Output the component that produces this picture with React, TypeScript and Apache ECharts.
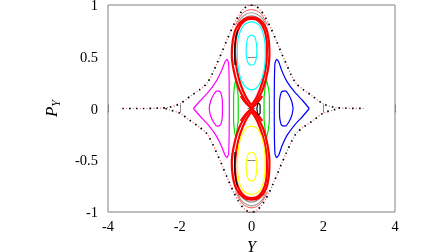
import React, { useEffect, useRef } from "react";
import * as echarts from "echarts";

const SERIF = "'Liberation Serif', 'Times New Roman', serif";

const xTicks = [-4, -2, 0, 2, 4];
const yTicks = [-1, -0.5, 0, 0.5, 1];

const envelopeUpper = [
  [-3.6, 0], [-3.0, 0], [-2.6, 0.003], [-2.3, 0.012], [-2.0, 0.045], [-1.7, 0.12], [-1.45, 0.18],
  [-1.25, 0.24], [-1.1, 0.33], [-0.97, 0.43], [-0.83, 0.54], [-0.7, 0.65], [-0.6, 0.73],
  [-0.48, 0.82], [-0.37, 0.89], [-0.25, 0.95], [-0.12, 0.99], [0, 1.0], [0.12, 0.99],
  [0.25, 0.95], [0.37, 0.89], [0.48, 0.82], [0.6, 0.73], [0.7, 0.65], [0.83, 0.54],
  [0.97, 0.43], [1.1, 0.33], [1.25, 0.24], [1.45, 0.18], [1.7, 0.12], [2.0, 0.045],
  [2.3, 0.012], [2.6, 0.003], [3.15, 0],
];
const envelopeLower = [
  [-2.4, 0], [-2.3, -0.012], [-2.0, -0.045], [-1.7, -0.12], [-1.45, -0.18], [-1.25, -0.24],
  [-1.1, -0.33], [-0.97, -0.43], [-0.83, -0.54], [-0.7, -0.65], [-0.6, -0.73], [-0.48, -0.82],
  [-0.37, -0.89], [-0.25, -0.95], [-0.12, -0.99], [0, -1.0], [0.12, -0.99], [0.25, -0.95],
  [0.37, -0.89], [0.48, -0.82], [0.6, -0.73], [0.7, -0.65], [0.83, -0.54], [0.97, -0.43],
  [1.1, -0.33], [1.25, -0.24], [1.45, -0.18], [1.7, -0.12], [2.0, -0.045], [2.3, -0.012], [2.4, 0],
];

const grayTop1 = [[-0.4, 0.8], [-0.3, 0.87], [-0.15, 0.91], [0, 0.925], [0.15, 0.91], [0.3, 0.87], [0.4, 0.8]];
const grayTop2 = [[-0.36, 0.8], [-0.25, 0.85], [-0.12, 0.885], [0, 0.895], [0.12, 0.885], [0.25, 0.85], [0.36, 0.8]];
const grayBot1 = [[-0.4, -0.8], [-0.3, -0.88], [-0.15, -0.925], [0, -0.94], [0.15, -0.925], [0.3, -0.88], [0.4, -0.8]];
const grayBot2 = [[-0.36, -0.8], [-0.25, -0.86], [-0.12, -0.895], [0, -0.905], [0.12, -0.895], [0.25, -0.86], [0.36, -0.8]];

const magentaOuter = [
  [-1.62, 0], [-1.43, 0.075], [-1.2, 0.16], [-0.99, 0.26], [-0.83, 0.37], [-0.74, 0.45], [-0.68, 0.475],
  [-0.64, 0.44], [-0.625, 0.3], [-0.62, 0.1], [-0.62, -0.1], [-0.625, -0.3], [-0.64, -0.44],
  [-0.68, -0.475], [-0.74, -0.45], [-0.83, -0.37], [-0.99, -0.26], [-1.2, -0.16], [-1.43, -0.075], [-1.62, 0],
];
const magentaInner = [
  [-1.18, 0], [-1.14, 0.07], [-1.06, 0.13], [-0.96, 0.17], [-0.88, 0.165], [-0.83, 0.12], [-0.81, 0.05],
  [-0.81, -0.05], [-0.83, -0.12], [-0.88, -0.165], [-0.96, -0.17], [-1.06, -0.13], [-1.14, -0.07], [-1.18, 0],
];
const blueOuter = [
  [1.61, 0], [1.43, 0.075], [1.2, 0.16], [0.99, 0.26], [0.84, 0.37], [0.76, 0.45], [0.7, 0.475],
  [0.655, 0.44], [0.64, 0.3], [0.635, 0.1], [0.635, -0.1], [0.64, -0.3], [0.655, -0.44],
  [0.7, -0.475], [0.76, -0.45], [0.84, -0.37], [0.99, -0.26], [1.2, -0.16], [1.43, -0.075], [1.61, 0],
];
const blueInner = [
  [1.16, 0], [1.12, 0.07], [1.04, 0.13], [0.94, 0.17], [0.85, 0.165], [0.8, 0.12], [0.78, 0.05],
  [0.78, -0.05], [0.8, -0.12], [0.85, -0.165], [0.94, -0.17], [1.04, -0.13], [1.12, -0.07], [1.16, 0],
];

const greenLeft = [
  [-0.44, 0.275], [-0.48, 0.2], [-0.5, 0.1], [-0.5, -0.1], [-0.48, -0.2], [-0.44, -0.275],
  [-0.4, -0.2], [-0.37, -0.1], [-0.37, 0.1], [-0.4, 0.2], [-0.44, 0.275],
];
const greenRight = [
  [0.42, 0.275], [0.38, 0.2], [0.35, 0.1], [0.35, -0.1], [0.38, -0.2], [0.42, -0.275],
  [0.47, -0.2], [0.5, -0.1], [0.5, 0.1], [0.47, 0.2], [0.42, 0.275],
];

const redUpperOuter = [
  [0, 0], [-0.18, 0.08], [-0.36, 0.2], [-0.49, 0.36], [-0.55, 0.52], [-0.52, 0.66], [-0.42, 0.78],
  [-0.22, 0.86], [0, 0.88], [0.22, 0.86], [0.4, 0.78], [0.48, 0.66], [0.5, 0.52], [0.45, 0.36],
  [0.33, 0.2], [0.16, 0.08], [0, 0],
];
const redUpperInner = [
  [0, 0.03], [-0.17, 0.12], [-0.32, 0.25], [-0.42, 0.4], [-0.46, 0.55], [-0.43, 0.69], [-0.33, 0.79],
  [-0.18, 0.85], [0, 0.865], [0.18, 0.85], [0.32, 0.79], [0.41, 0.69], [0.43, 0.55], [0.4, 0.4],
  [0.3, 0.25], [0.16, 0.12], [0, 0.03],
];
const redLowerOuter = [
  [0, 0], [-0.18, -0.08], [-0.36, -0.2], [-0.49, -0.36], [-0.55, -0.52], [-0.52, -0.66], [-0.42, -0.78],
  [-0.22, -0.86], [0, -0.88], [0.22, -0.86], [0.4, -0.78], [0.48, -0.66], [0.5, -0.52], [0.45, -0.36],
  [0.33, -0.2], [0.16, -0.08], [0, 0],
];
const redLowerInner = [
  [0, -0.03], [-0.17, -0.12], [-0.32, -0.25], [-0.42, -0.4], [-0.46, -0.55], [-0.43, -0.69], [-0.33, -0.79],
  [-0.18, -0.85], [0, -0.865], [0.18, -0.85], [0.32, -0.79], [0.41, -0.69], [0.43, -0.55], [0.4, -0.4],
  [0.3, -0.25], [0.16, -0.12], [0, -0.03],
];
const redCross1 = [[-0.3, 0.12], [-0.15, 0.05], [0, 0], [0.15, -0.05], [0.3, -0.12]];
const redCross2 = [[-0.3, -0.12], [-0.15, -0.05], [0, 0], [0.15, 0.05], [0.3, 0.12]];
const redTopArc = [[-0.45, 0.8], [-0.25, 0.92], [0, 0.955], [0.25, 0.92], [0.45, 0.8]];
const redBotArc = [[-0.45, -0.8], [-0.25, -0.92], [0, -0.96], [0.25, -0.92], [0.45, -0.8]];

const blackLeftUp = [[-0.46, 0.42], [-0.47, 0.55], [-0.44, 0.68], [-0.38, 0.76]];
const blackLeftDown = [[-0.46, -0.42], [-0.47, -0.55], [-0.44, -0.68], [-0.38, -0.76]];
const blackCenter = [[0.15, 0], [0.19, 0.05], [0.24, 0.03], [0.24, -0.04], [0.19, -0.06], [0.15, 0]];

const cyanOuter = [
  [0, 0.84], [0.2, 0.81], [0.32, 0.73], [0.38, 0.62], [0.385, 0.5], [0.35, 0.37], [0.26, 0.26],
  [0.14, 0.2], [0, 0.18], [-0.14, 0.2], [-0.27, 0.26], [-0.36, 0.37], [-0.395, 0.5], [-0.39, 0.62],
  [-0.33, 0.73], [-0.2, 0.81], [0, 0.84],
];
const cyanInner = [
  [0, 0.71], [0.09, 0.69], [0.14, 0.62], [0.15, 0.55], [0.13, 0.48], [0.08, 0.43], [0, 0.42],
  [-0.08, 0.43], [-0.13, 0.48], [-0.15, 0.55], [-0.14, 0.62], [-0.09, 0.69], [0, 0.71],
];
const yellowOuter = [
  [0, -0.17], [0.15, -0.19], [0.27, -0.26], [0.35, -0.37], [0.38, -0.5], [0.37, -0.63], [0.31, -0.74],
  [0.18, -0.81], [0, -0.83], [-0.18, -0.81], [-0.32, -0.74], [-0.38, -0.63], [-0.39, -0.5],
  [-0.36, -0.37], [-0.28, -0.26], [-0.15, -0.19], [0, -0.17],
];
const yellowInner = [
  [0, -0.42], [0.09, -0.44], [0.14, -0.5], [0.15, -0.57], [0.13, -0.64], [0.08, -0.69], [0, -0.7],
  [-0.08, -0.69], [-0.13, -0.64], [-0.15, -0.57], [-0.14, -0.5], [-0.09, -0.44], [0, -0.42],
];

function line(data: number[][], color: string, width: number, smooth: number | boolean = 0.35, extra: any = {}) {
  return {
    type: "line",
    data,
    smooth,
    showSymbol: false,
    silent: true,
    lineStyle: { color, width, ...extra },
  };
}

export default function App() {
  const ref = useRef<HTMLDivElement>(null);
  useEffect(() => {
    const chart = echarts.init(ref.current!, null, { renderer: "svg" });
    const tickStyle = { show: true, inside: true, length: 4, lineStyle: { color: "#808080", width: 1 } };
    const labelStyle = { color: "#000", fontFamily: SERIF, fontSize: 14.5, lineHeight: 10 };
    const blackDots = { type: [1.6, 5.2], cap: "butt" };
    const redDots = { type: [1.2, 5.6], dashOffset: 3.2 };
    chart.setOption({
      animation: false,
      grid: {
        left: 108, right: 53, top: 5, bottom: 40, show: true, borderColor: "#808080", borderWidth: 1,
        backgroundColor: "transparent", containLabel: false, outerBoundsMode: "none",
      },
      xAxis: [
        {
          type: "value", min: -4, max: 4, interval: 2, position: "bottom",
          axisLine: { show: false }, splitLine: { show: false }, axisTick: tickStyle,
          axisLabel: { ...labelStyle, margin: 9, formatter: (v: number) => (xTicks.includes(v) ? String(v) : "") },
          name: "Y", nameLocation: "middle", nameGap: 24,
          nameTextStyle: { fontFamily: SERIF, fontStyle: "italic", fontSize: 16, color: "#000" },
        },
        {
          type: "value", min: -4, max: 4, interval: 2, position: "top",
          axisLine: { show: false }, splitLine: { show: false }, axisTick: tickStyle, axisLabel: { show: false },
        },
      ],
      yAxis: [
        {
          type: "value", min: -1, max: 1, interval: 0.5, position: "left",
          axisLine: { show: false }, splitLine: { show: false }, axisTick: tickStyle,
          axisLabel: { ...labelStyle, margin: 10, formatter: (v: number) => (yTicks.includes(v) ? String(v) : "") },
          name: "{p|P}{s|Y}", nameLocation: "middle", nameGap: 46, nameRotate: 90,
          nameTextStyle: {
            rich: {
              p: { fontFamily: SERIF, fontStyle: "italic", fontSize: 17, color: "#000" },
              s: { fontFamily: SERIF, fontStyle: "italic", fontSize: 12, color: "#000", verticalAlign: "bottom", padding: [9, 0, 0, 0] },
            },
          },
        },
        {
          type: "value", min: -1, max: 1, interval: 0.5, position: "right",
          axisLine: { show: false }, splitLine: { show: false }, axisTick: tickStyle, axisLabel: { show: false },
        },
      ],
      series: [
        line(envelopeUpper, "#000", 1.7, 0.3, blackDots),
        line(envelopeLower, "#000", 1.7, 0.3, blackDots),
        line(envelopeUpper, "#ff7070", 1.2, 0.3, redDots),
        line(envelopeLower, "#ff7070", 1.2, 0.3, redDots),
        line(grayTop1, "#a0a0a0", 1.2),
        line(grayTop2, "#909090", 1.2),
        line(grayBot1, "#a0a0a0", 1.2),
        line(grayBot2, "#909090", 1.2),
        line(magentaOuter, "#ff00ff", 1.2, 0.15),
        line(magentaInner, "#ff00ff", 1.2),
        line(blueOuter, "#0000ff", 1.2, 0.15),
        line(blueInner, "#0000ff", 1.2),
        line(greenLeft, "#00e000", 1.2),
        line(greenRight, "#00e000", 1.2),
        line(redTopArc, "#ff5050", 1),
        line(redBotArc, "#ff5050", 1),
        line(redUpperOuter, "#ff0000", 2.2),
        line(redUpperInner, "#ff0000", 2.2),
        line(redLowerOuter, "#ff0000", 2.2),
        line(redLowerInner, "#ff0000", 2.2),
        line(redCross1, "#ff0000", 2.2),
        line(redCross2, "#ff0000", 2.2),
        line(blackLeftUp, "#000", 1.2),
        line(blackLeftDown, "#000", 1.2),
        line(blackCenter, "#000", 1.2),
        line(cyanOuter, "#00ffff", 1.2),
        line(cyanInner, "#00ffff", 1.2),
        line(yellowOuter, "#ffff00", 1.2),
        line(yellowInner, "#ffff00", 1.2),
      ],
    });
    return () => chart.dispose();
  }, []);
  return <div ref={ref} style={{ position: "fixed", left: 0, top: 0, width: 448, height: 252 }} />;
}
